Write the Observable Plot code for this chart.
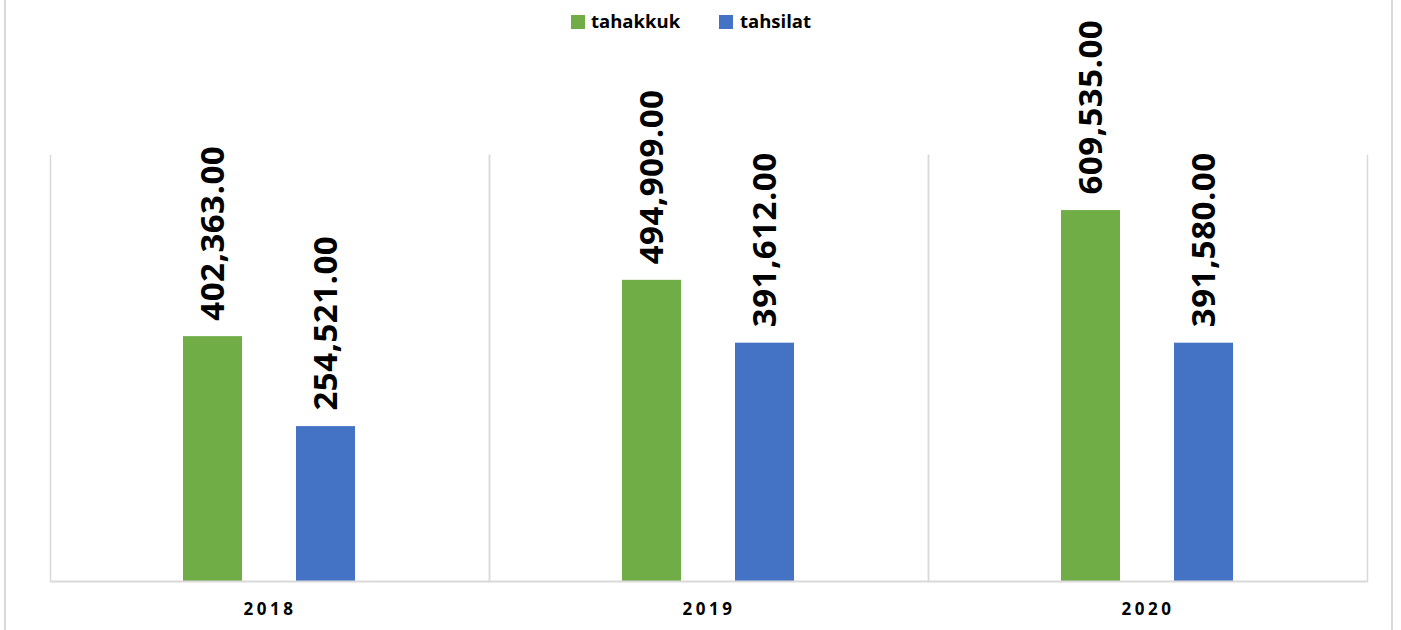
<!DOCTYPE html>
<html>
<head>
<meta charset="utf-8">
<script src="https://cdn.jsdelivr.net/npm/d3@7"></script>
<script src="https://cdn.jsdelivr.net/npm/@observablehq/plot@0.6"></script>
<style>
  html, body { margin: 0; padding: 0; background: #fff; }
  body { width: 1401px; height: 630px; position: relative; overflow: hidden; font-family: "Open Sans", sans-serif; }
  .edge { position: absolute; top: 0; width: 2px; height: 630px; background: #d9d9d9; }
  #legend { position: absolute; left: 0; top: 0; width: 1401px; height: 40px; z-index: 2; }
  #legend .sw { position: absolute; top: 15px; width: 14px; height: 14px; }
  #legend .lb { position: absolute; top: 8px; font-size: 18.5px; font-weight: 700; color: #000; line-height: normal; }
  #chart { position: absolute; left: 0; top: 0; }
  #chart svg g[aria-label^="fx-axis"] text { letter-spacing: 3.5px; }
  #chart svg g[aria-label="text"] text { letter-spacing: 0.5px; }
</style>
</head>
<body>
<div class="edge" style="left:4px"></div>
<div class="edge" style="left:1391px"></div>
<div id="chart"></div>
<div id="legend"></div>
<script>
const years = ["2018", "2019", "2020"];
const seriesNames = ["tahakkuk", "tahsilat"];
const tahakkuk = [402363, 494909, 609535];
const tahsilat = [254521, 391612, 391580];
const seriesColors = ["#70AD47", "#4472C4"];

const table = [];
years.forEach((yr, i) => {
  table.push({year: yr, series: seriesNames[0], value: tahakkuk[i]});
  table.push({year: yr, series: seriesNames[1], value: tahsilat[i]});
});
const fmt = d3.format(",.2f");

// legend
const legend = document.getElementById("legend");
const legendX = [[571, 591], [719, 740]];
seriesNames.forEach((s, i) => {
  const sw = document.createElement("div");
  sw.className = "sw";
  sw.style.left = legendX[i][0] + "px";
  sw.style.background = seriesColors[i];
  legend.appendChild(sw);
  const lb = document.createElement("div");
  lb.className = "lb";
  lb.style.left = legendX[i][1] + "px";
  lb.textContent = s;
  legend.appendChild(lb);
});

const chart = Plot.plot({
  width: 1401,
  height: 630,
  marginLeft: 50,
  marginRight: 34,
  marginTop: 155,
  marginBottom: 49,
  style: {fontFamily: "Open Sans, sans-serif", background: "transparent"},
  fx: {domain: years, padding: 0, label: null},
  x: {domain: seriesNames, paddingInner: 0.475, paddingOuter: 1.17, axis: null},
  y: {domain: [0, 700000], axis: null},
  color: {domain: seriesNames, range: seriesColors},
  marks: [
    Plot.frame({anchor: "left", stroke: "#d9d9d9", strokeWidth: 1.5}),
    Plot.frame({anchor: "right", stroke: "#d9d9d9", strokeWidth: 1.5}),
    Plot.barY(table, {fx: "year", x: "series", y: "value", fill: "series"}),
    Plot.ruleY([0], {stroke: "#d9d9d9", strokeWidth: 2}),
    Plot.text(table, {
      fx: "year", x: "series", y: "value",
      text: d => fmt(d.value),
      rotate: -90, textAnchor: "start", lineAnchor: "middle",
      dy: -16, fontSize: 33, fontWeight: "bold", fill: "#000"
    }),
    Plot.axisFx({anchor: "bottom", tickSize: 0, tickPadding: 21, fontSize: 17, fontWeight: "bold", fill: "#000", label: null})
  ]
});
document.getElementById("chart").appendChild(chart);
</script>
</body>
</html>
